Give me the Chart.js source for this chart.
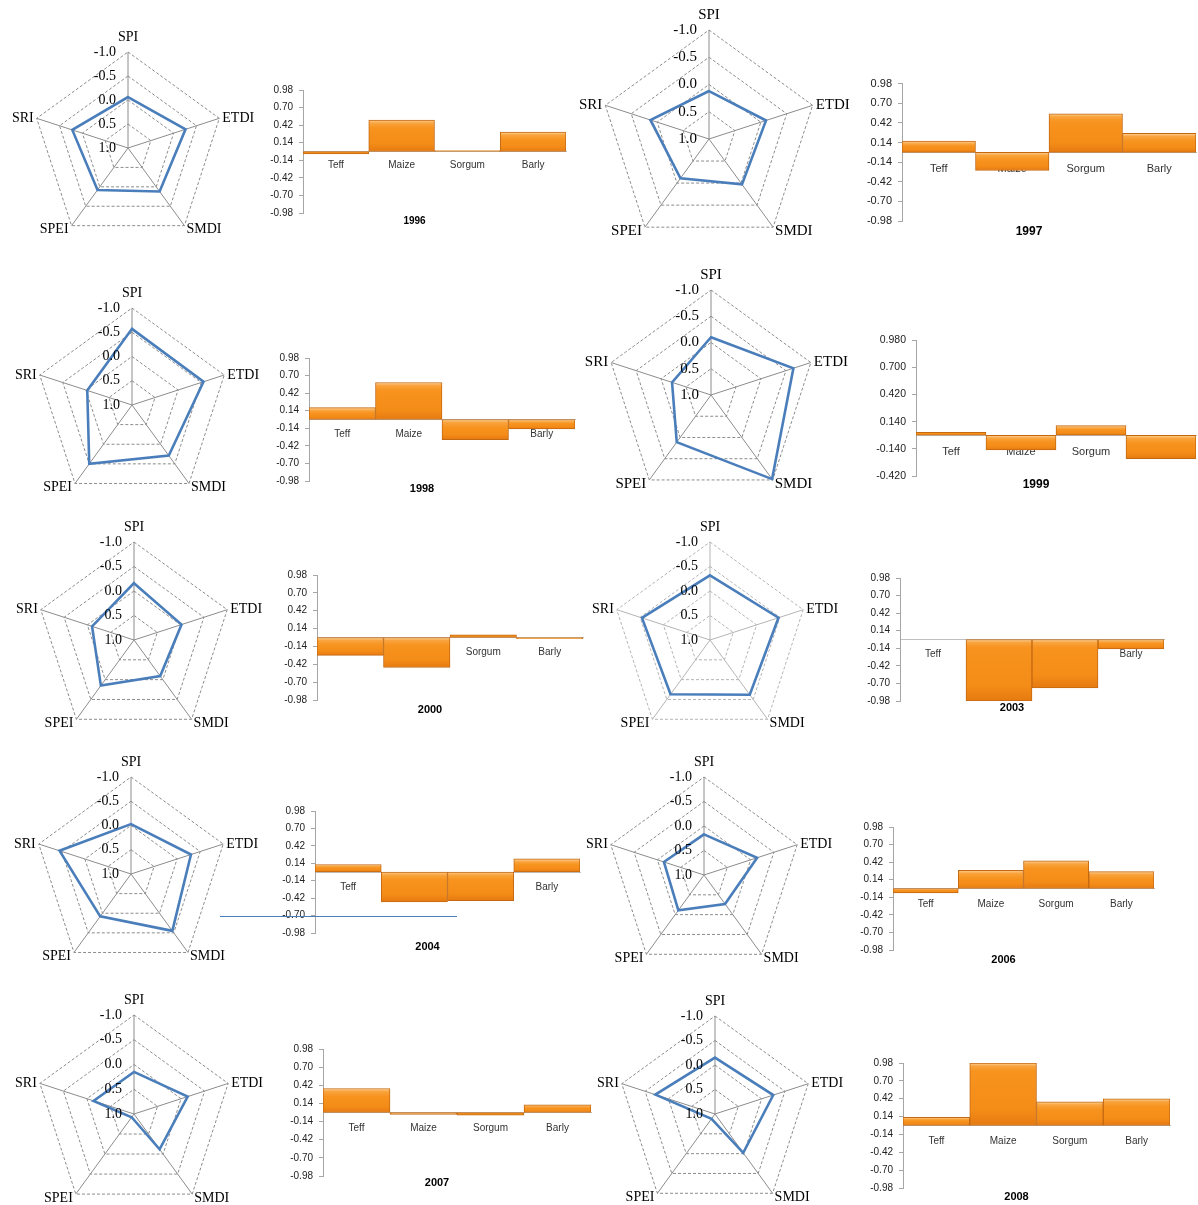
<!DOCTYPE html>
<html>
<head>
<meta charset="utf-8">
<script src="https://cdn.jsdelivr.net/npm/chart.js@4.4.0/dist/chart.umd.min.js"></script>
<style>
  body { margin: 0; background: #fff; }
  #page { position: relative; width: 1198px; height: 1205px; overflow: hidden; }
  #page canvas { position: absolute; }
  .stray { position: absolute; left: 220px; top: 916px; width: 237px; height: 1px; background: #4A7EBB; }
</style>
</head>
<body>
<div id="page"></div>
<script>
// drought indices (radar) and yield anomalies (bars)
var indexNames = ['SPI', 'ETDI', 'SMDI', 'SPEI', 'SRI'];
var crops = ['Teff', 'Maize', 'Sorgum', 'Barly'];
var radarTicks = [-1.0, -0.5, 0.0, 0.5, 1.0];
var barTicks = [0.98, 0.70, 0.42, 0.14, -0.14, -0.42, -0.70, -0.98];
var barTicks1999 = [0.98, 0.70, 0.42, 0.14, -0.14, -0.42];

var idx1996 = [-0.06, -0.26, -0.12, -0.08, -0.22];
var idx1997 = [0.12, -0.10, -0.03, 0.11, -0.13];
var idx1998 = [-0.57, -0.55, -0.29, -0.50, 0.03];
var idx1999 = [-0.10, -0.65, -0.98, -0.11, 0.22];
var idx2000 = [-0.16, -0.02, 0.09, -0.15, 0.10];
var idx2003 = [-0.32, -0.47, -0.38, -0.37, -0.46];
var idx2004 = [-0.03, -0.30, -0.45, -0.08, -0.55];
var idx2006 = [0.17, -0.14, 0.27, 0.11, 0.14];
var idx2007 = [0.15, -0.14, 0.12, 0.92, 0.14];
var idx2008 = [-0.15, -0.25, 0.02, 0.88, -0.28];

var yield1996 = [-0.04, 0.50, 0.015, 0.31];
var yield1997 = [0.16, -0.26, 0.55, 0.27];
var yield1998 = [0.19, 0.59, -0.32, -0.15];
var yield1999 = [0.03, -0.15, 0.10, -0.24];
var yield2000 = [-0.28, -0.47, 0.04, -0.02];
var yield2003 = [0, -0.98, -0.77, -0.15];
var yield2004 = [0.12, -0.48, -0.46, 0.21];
var yield2006 = [-0.07, 0.29, 0.44, 0.27];
var yield2007 = [0.37, -0.03, -0.04, 0.12];
var yield2008 = [0.13, 0.98, 0.37, 0.42];

// layout: rc = radar centre x, y, radius; bar = axis x, right, top, bottom, title y
var panels = [
  { year: '1996', idx: idx1996, yld: yield1996, ticks: barTicks, dec: 2, rc: [128, 148, 96], rfs: 14, bar: [303.3, 565.7, 85.7, 213.3, 221], bfs: 10, yfs: 10, tfs: 10, lp: 8 },
  { year: '1997', idx: idx1997, yld: yield1997, ticks: barTicks, dec: 2, rc: [709, 139, 109], rfs: 15, bar: [901.6, 1196, 79, 220.7, 231.7], bfs: 11, yfs: 11, tfs: 12, lp: 10 },
  { year: '1998', idx: idx1998, yld: yield1998, ticks: barTicks, dec: 2, rc: [132, 405, 97], rfs: 14, bar: [309.4, 574.7, 354, 481, 489], bfs: 10, yfs: 10, tfs: 11, lp: 9 },
  { year: '1999', idx: idx1999, yld: yield1999, ticks: barTicks1999, dec: 3, rc: [711, 395, 105], rfs: 15, bar: [915.9, 1196, 336.3, 476.3, 484.7], bfs: 11, yfs: 10.5, tfs: 12, lp: 10 },
  { year: '2000', idx: idx2000, yld: yield2000, ticks: barTicks, dec: 2, rc: [134, 640, 98], rfs: 14, bar: [317.3, 583.4, 570.7, 699.7, 709.7], bfs: 10, yfs: 10, tfs: 11, lp: 9 },
  { year: '2003', idx: idx2003, yld: yield2003, ticks: barTicks, dec: 2, rc: [710, 640, 98], rfs: 14, bar: [899.6, 1164, 574.3, 701, 708.3], bfs: 10, yfs: 10, tfs: 11, lp: 9, light: true },
  { year: '2004', idx: idx2004, yld: yield2004, ticks: barTicks, dec: 2, rc: [131, 874, 97], rfs: 14, bar: [315, 579.6, 806.7, 933.3, 947.3], bfs: 10, yfs: 10, tfs: 11, lp: 9 },
  { year: '2006', idx: idx2006, yld: yield2006, ticks: barTicks, dec: 2, rc: [704, 875, 98], rfs: 14, bar: [892.9, 1154.4, 823, 950, 960.3], bfs: 10, yfs: 10, tfs: 11, lp: 10 },
  { year: '2007', idx: idx2007, yld: yield2007, ticks: barTicks, dec: 2, rc: [134, 1114, 99], rfs: 14, bar: [323.4, 591.3, 1044.7, 1176.3, 1183], bfs: 10, yfs: 10, tfs: 11, lp: 10 },
  { year: '2008', idx: idx2008, yld: yield2008, ticks: barTicks, dec: 2, rc: [715, 1114, 98], rfs: 14, bar: [903.3, 1169.7, 1059, 1188.3, 1197.3], bfs: 10, yfs: 10, tfs: 11, lp: 10 }
];

Chart.defaults.font.family = '"Liberation Sans", Arial, sans-serif';
Chart.defaults.animation = false;

var page = document.getElementById('page');

function makeCanvas(left, top, w, h) {
  var c = document.createElement('canvas');
  c.width = w; c.height = h;
  c.style.left = left + 'px'; c.style.top = top + 'px';
  c.style.width = w + 'px'; c.style.height = h + 'px';
  page.appendChild(c);
  return c;
}

// tick values on the SPI spoke and the index names round the pentagon
var radarText = {
  id: 'radarText',
  afterDatasetsDraw: function(chart, args, opts) {
    var s = chart.scales.r, ctx = chart.ctx;
    ctx.save();
    ctx.fillStyle = '#000';
    ctx.font = opts.size + 'px "Liberation Serif", "Times New Roman", serif';
    ctx.textAlign = 'right';
    ctx.textBaseline = 'middle';
    radarTicks.forEach(function(v) {
      var p = s.getPointPosition(0, s.getDistanceFromCenterForValue(v));
      ctx.fillText(v.toFixed(1), p.x - 12, p.y);
    });
    var nudge = [[0, -15, 'center'], [3, 0, 'left'], [2, 4, 'left'], [-3, 4, 'right'], [-3, 0, 'right']];
    chart.data.labels.forEach(function(lab, i) {
      var p = s.getPointPosition(i, s.drawingArea);
      ctx.textAlign = nudge[i][2];
      ctx.fillText(lab, p.x + nudge[i][0], p.y + nudge[i][1]);
    });
    ctx.restore();
  }
};

function radarChart(p) {
  var R = p.rc[2], P = 50;
  var size = 2 * R + 2 * P;
  var c = makeCanvas(p.rc[0] - R - P, p.rc[1] - R - P, size, size);
  var gridCol = p.light ? '#b4b4b4' : '#8c8c8c';
  new Chart(c, {
    type: 'radar',
    data: {
      labels: indexNames,
      datasets: [{
        data: p.idx,
        borderColor: '#4A7EBB',
        borderWidth: 2.6,
        backgroundColor: 'rgba(0,0,0,0)',
        fill: false,
        pointRadius: 0,
        tension: 0
      }]
    },
    options: {
      responsive: false,
      devicePixelRatio: 1,
      layout: { padding: P },
      plugins: { legend: { display: false }, tooltip: { enabled: false }, radarText: { size: p.rfs } },
      scales: {
        r: {
          min: -1, max: 1, reverse: true,
          ticks: { display: false, stepSize: 0.5, reverse: true },
          pointLabels: { display: false },
          grid: { color: gridCol, lineWidth: 1 },
          border: { dash: [3, 2] },
          angleLines: { color: gridCol, lineWidth: 1 }
        }
      }
    },
    plugins: [radarText]
  });
}

// orange bevel: thin light top edge, flat body, darker foot
function barFill(c) {
  var chart = c.chart;
  if (!chart.chartArea || !c.parsed) return '#F7931E';
  var y = chart.scales.y, v = c.parsed.y;
  var a = y.getPixelForValue(Math.max(v, 0)), b = y.getPixelForValue(Math.min(v, 0));
  var len = b - a;
  if (len < 4) return '#F7931E';
  var g = chart.ctx.createLinearGradient(0, a, 0, b);
  g.addColorStop(0, '#FDD49C');
  g.addColorStop(Math.min(0.25, 3 / len), '#F9A43E');
  g.addColorStop(Math.min(0.45, 8 / len), '#F7931E');
  g.addColorStop(0.75, '#F48C18');
  g.addColorStop(1, '#E57A10');
  return g;
}

function barChart(p) {
  var axisX = Math.round(p.bar[0]), right = Math.round(p.bar[1]);
  var top = Math.round(p.bar[2]), bottom = Math.round(p.bar[3]);
  var yW = 40, padTop = 8;
  var lh = p.tfs * 1.2;
  var tPad = Math.max(0, p.bar[4] - bottom - lh / 2);
  var plotH = bottom - top;
  var h = Math.ceil(padTop + plotH + lh + tPad + 2);
  var padBot = h - (padTop + plotH + lh + tPad);
  var w = right - axisX + yW + 3;
  var c = makeCanvas(axisX - yW, top - padTop, w, h);
  var tickVals = p.ticks;
  new Chart(c, {
    type: 'bar',
    data: {
      labels: crops,
      datasets: [{
        data: p.yld,
        backgroundColor: barFill,
        borderColor: '#C46912',
        borderWidth: 1,
        borderSkipped: false,
        categoryPercentage: 1,
        barPercentage: 1
      }]
    },
    options: {
      responsive: false,
      devicePixelRatio: 1,
      layout: { padding: { top: padTop, left: 0, right: 3, bottom: padBot } },
      plugins: {
        legend: { display: false },
        tooltip: { enabled: false },
        title: {
          display: true, text: p.year, position: 'bottom', color: '#000',
          font: { size: p.tfs, weight: 'bold' },
          padding: { top: tPad, bottom: 0 }
        }
      },
      scales: {
        x: {
          type: 'category',
          position: { y: 0 },
          z: 1,
          grid: { display: false, drawTicks: false },
          border: { display: true, color: '#bfbfbf', width: 1 },
          ticks: { color: '#333', font: { size: p.bfs }, padding: p.lp, autoSkip: false, maxRotation: 0 }
        },
        y: {
          min: tickVals[tickVals.length - 1], max: tickVals[0],
          afterBuildTicks: function(s) { s.ticks = tickVals.map(function(v) { return { value: v }; }); },
          afterFit: function(s) { s.width = yW; },
          grid: { display: true, drawOnChartArea: false, drawTicks: true, tickLength: 4, color: '#a6a6a6' },
          border: { display: true, color: '#a6a6a6', width: 1 },
          ticks: {
            color: '#222', font: { size: p.yfs }, padding: 6,
            callback: function(v) { return Number(v).toFixed(p.dec); }
          }
        }
      }
    }
  });
}

panels.forEach(function(p) {
  radarChart(p);
  barChart(p);
});

// stray rule that sits across the 2004 panel
var stray = document.createElement('div');
stray.className = 'stray';
page.appendChild(stray);
</script>
</body>
</html>
